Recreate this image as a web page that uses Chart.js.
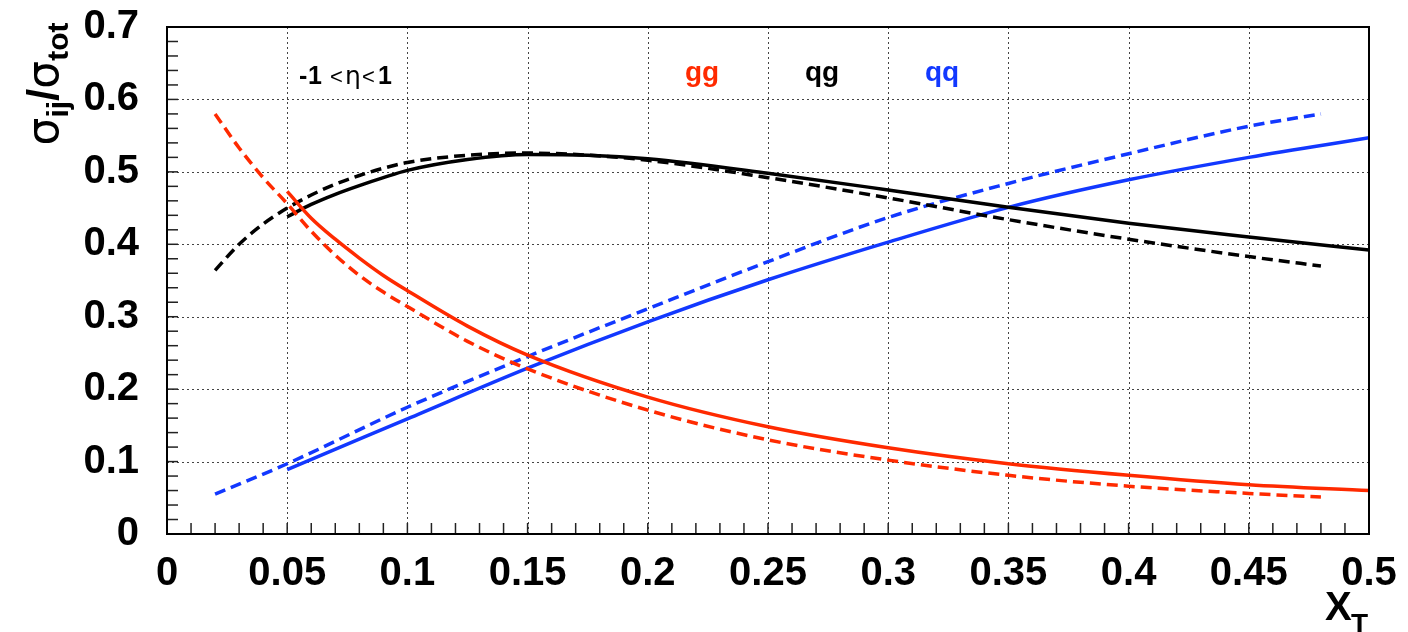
<!DOCTYPE html>
<html><head><meta charset="utf-8">
<script src="https://cdn.jsdelivr.net/npm/chart.js@4.4.0/dist/chart.umd.min.js"></script>
<style>html,body{margin:0;padding:0;background:#fff;overflow:hidden}#wrap{width:1408px;height:632px}</style>
</head><body><div id="wrap"><canvas id="c" width="1408" height="632"></canvas></div>
<script>
// ---- tick labels ----
const xTickLabels = ['0','0.05','0.1','0.15','0.2','0.25','0.3','0.35','0.4','0.45','0.5'];
const yTickLabels = ['0','0.1','0.2','0.3','0.4','0.5','0.6','0.7'];

// ---- series: gg (red) ----
const ggSolidX  = [0.05,0.06,0.07,0.08,0.09,0.10,0.125,0.15,0.20,0.25,0.30,0.35,0.40,0.45,0.50];
const ggSolidY  = [0.473,0.436,0.407,0.381,0.357,0.336,0.287,0.247,0.189,0.148,0.119,0.097,0.081,0.068,0.060];
const ggDashX   = [0.02,0.03,0.04,0.05,0.06,0.07,0.08,0.09,0.10,0.125,0.15,0.20,0.25,0.30,0.35,0.40,0.45,0.48];
const ggDashY   = [0.580,0.533,0.492,0.456,0.418,0.385,0.357,0.334,0.314,0.266,0.228,0.171,0.130,0.102,0.081,0.066,0.056,0.051];
// ---- series: qg (black) ----
const qgSolidX  = [0.05,0.06,0.07,0.08,0.09,0.10,0.125,0.15,0.175,0.20,0.25,0.30,0.35,0.40,0.45,0.50];
const qgSolidY  = [0.438,0.455,0.469,0.481,0.492,0.502,0.517,0.524,0.523,0.518,0.498,0.475,0.451,0.429,0.410,0.392];
const qgDashX   = [0.02,0.03,0.04,0.05,0.06,0.07,0.08,0.09,0.10,0.125,0.15,0.175,0.20,0.25,0.30,0.35,0.40,0.45,0.48];
const qgDashY   = [0.364,0.400,0.428,0.450,0.468,0.483,0.495,0.505,0.513,0.523,0.526,0.523,0.516,0.492,0.464,0.434,0.407,0.383,0.370];
// ---- series: qq (blue) ----
const qqSolidX  = [0.05,0.10,0.15,0.20,0.25,0.30,0.35,0.40,0.45,0.50];
const qqSolidY  = [0.089,0.159,0.229,0.293,0.351,0.403,0.451,0.489,0.520,0.547];
const qqDashX   = [0.02,0.05,0.10,0.15,0.20,0.25,0.30,0.35,0.40,0.45,0.48];
const qqDashY   = [0.055,0.097,0.175,0.245,0.311,0.376,0.437,0.484,0.525,0.563,0.580];

const RED = '#ff2a00', BLUE = '#1238ff', BLACK = '#000000';
const pts = (xs, ys) => xs.map((x, i) => ({x, y: ys[i]}));
function ds(xs, ys, color, dashed) {
  return {data: pts(xs, ys), borderColor: color, borderWidth: 3.5, borderDash: dashed ? [11, 6] : [],
    pointRadius: 0, fill: false, cubicInterpolationMode: 'monotone', borderCapStyle: 'butt'};
}

const frame = {
  id: 'frame',
  beforeDraw(chart) {
    const c = chart.ctx; c.save(); c.fillStyle = '#fff'; c.fillRect(0, 0, chart.width, chart.height); c.restore();
  },
  beforeDatasetsDraw(chart) {
    const c = chart.ctx, a = chart.chartArea, xs = chart.scales.x, ys = chart.scales.y;
    c.save();
    c.strokeStyle = '#444'; c.lineWidth = 1; c.setLineDash([2, 3]);
    for (let i = 1; i < xTickLabels.length - 1; i++) {
      const px = Math.round(xs.getPixelForValue(i * 0.05)) + 0.5;
      c.beginPath(); c.moveTo(px, a.top); c.lineTo(px, a.bottom); c.stroke();
    }
    for (let i = 1; i < yTickLabels.length - 1; i++) {
      const py = Math.round(ys.getPixelForValue(i * 0.1)) + 0.5;
      c.beginPath(); c.moveTo(a.left, py); c.lineTo(a.right, py); c.stroke();
    }
    c.setLineDash([]);
    // minor/major ticks (inward)
    c.strokeStyle = '#222'; c.lineWidth = 1.5;
    for (let k = 1; k < 50; k++) {
      const px = xs.getPixelForValue(k * 0.01);
      c.beginPath(); c.moveTo(px, a.bottom); c.lineTo(px, a.bottom - 11); c.stroke();
    }
    for (let k = 1; k < 35; k++) {
      const py = ys.getPixelForValue(k * 0.02);
      c.beginPath(); c.moveTo(a.left, py); c.lineTo(a.left + 11, py); c.stroke();
    }
    c.restore();
  },
  afterDraw(chart) {
    const c = chart.ctx, a = chart.chartArea;
    c.save();
    c.strokeStyle = '#000'; c.lineWidth = 2;
    c.strokeRect(a.left, a.top, a.right - a.left, a.bottom - a.top);
    // labels gg qg qq
    c.textBaseline = 'alphabetic'; c.textAlign = 'center';
    c.font = 'bold 28px "Liberation Sans"';
    c.fillStyle = RED; c.fillText('gg', 702, 81);
    c.fillStyle = BLACK; c.fillText('qg', 822, 81);
    c.fillStyle = BLUE; c.fillText('qq', 942, 81);
    // -1<eta<1
    c.textAlign = 'left'; c.fillStyle = '#000';
    const eta = [['-', 'bold 25px "Liberation Sans"', 299], ['1', 'bold 25px "Liberation Sans"', 308],
                 ['<', '22px "Liberation Sans"', 330], ['\u03B7', '25px "DejaVu Sans"', 345],
                 ['<', '22px "Liberation Sans"', 362], ['1', 'bold 25px "Liberation Sans"', 378]];
    for (const [t, f, x] of eta) { c.font = f; c.fillText(t, x, 84); }
    // x title X_T
    c.font = 'bold 40px "Liberation Sans"'; c.fillText('X', 1325, 620);
    c.font = 'bold 28px "Liberation Sans"'; c.fillText('T', 1351, 633);
    // y title sigma_ij / sigma_tot (rotated)
    const pieces = [['\u03C3', '44px "DejaVu Sans"', 0], ['ij', 'bold 30px "Liberation Sans"', 10],
                    ['/', 'bold 44px "Liberation Sans"', 0], ['\u03C3', '44px "DejaVu Sans"', 0],
                    ['tot', 'bold 30px "Liberation Sans"', 10]];
    let total = 0;
    for (const p of pieces) { c.font = p[1]; total += c.measureText(p[0]).width; }
    c.translate(58, 84 + total / 2); c.rotate(-Math.PI / 2);
    let xo = 0;
    for (const p of pieces) { c.font = p[1]; c.fillText(p[0], xo, p[2]); xo += c.measureText(p[0]).width; }
    c.restore();
  }
};

const tickFont = {family: 'Liberation Sans', size: 40, weight: 'bold'};
new Chart(document.getElementById('c'), {
  type: 'line',
  data: {datasets: [
    ds(ggDashX, ggDashY, RED, true), ds(ggSolidX, ggSolidY, RED, false),
    ds(qgDashX, qgDashY, BLACK, true), ds(qgSolidX, qgSolidY, BLACK, false),
    ds(qqDashX, qqDashY, BLUE, true), ds(qqSolidX, qqSolidY, BLUE, false)
  ]},
  options: {
    responsive: false, animation: false, devicePixelRatio: 1,
    layout: {padding: {top: 27, right: 39, left: 0, bottom: 0}},
    plugins: {legend: {display: false}, tooltip: {enabled: false}},
    scales: {
      x: {type: 'linear', min: 0, max: 0.5, position: 'bottom',
        grid: {display: false}, border: {display: false},
        ticks: {stepSize: 0.05, autoSkip: false, maxRotation: 0, color: '#000', font: tickFont, padding: 8,
          callback: (v, i) => xTickLabels[i]},
        afterFit: s => { s.height = 98; s.paddingLeft = 0; s.paddingRight = 0; }},
      y: {type: 'linear', min: 0, max: 0.7,
        grid: {display: false}, border: {display: false},
        ticks: {stepSize: 0.1, autoSkip: false, color: '#000', font: tickFont, padding: 20,
          callback: (v, i) => yTickLabels[i]},
        afterFit: s => { s.width = 167; s.paddingTop = 0; s.paddingBottom = 0; }}
    }
  },
  plugins: [frame]
});
</script></body></html>
